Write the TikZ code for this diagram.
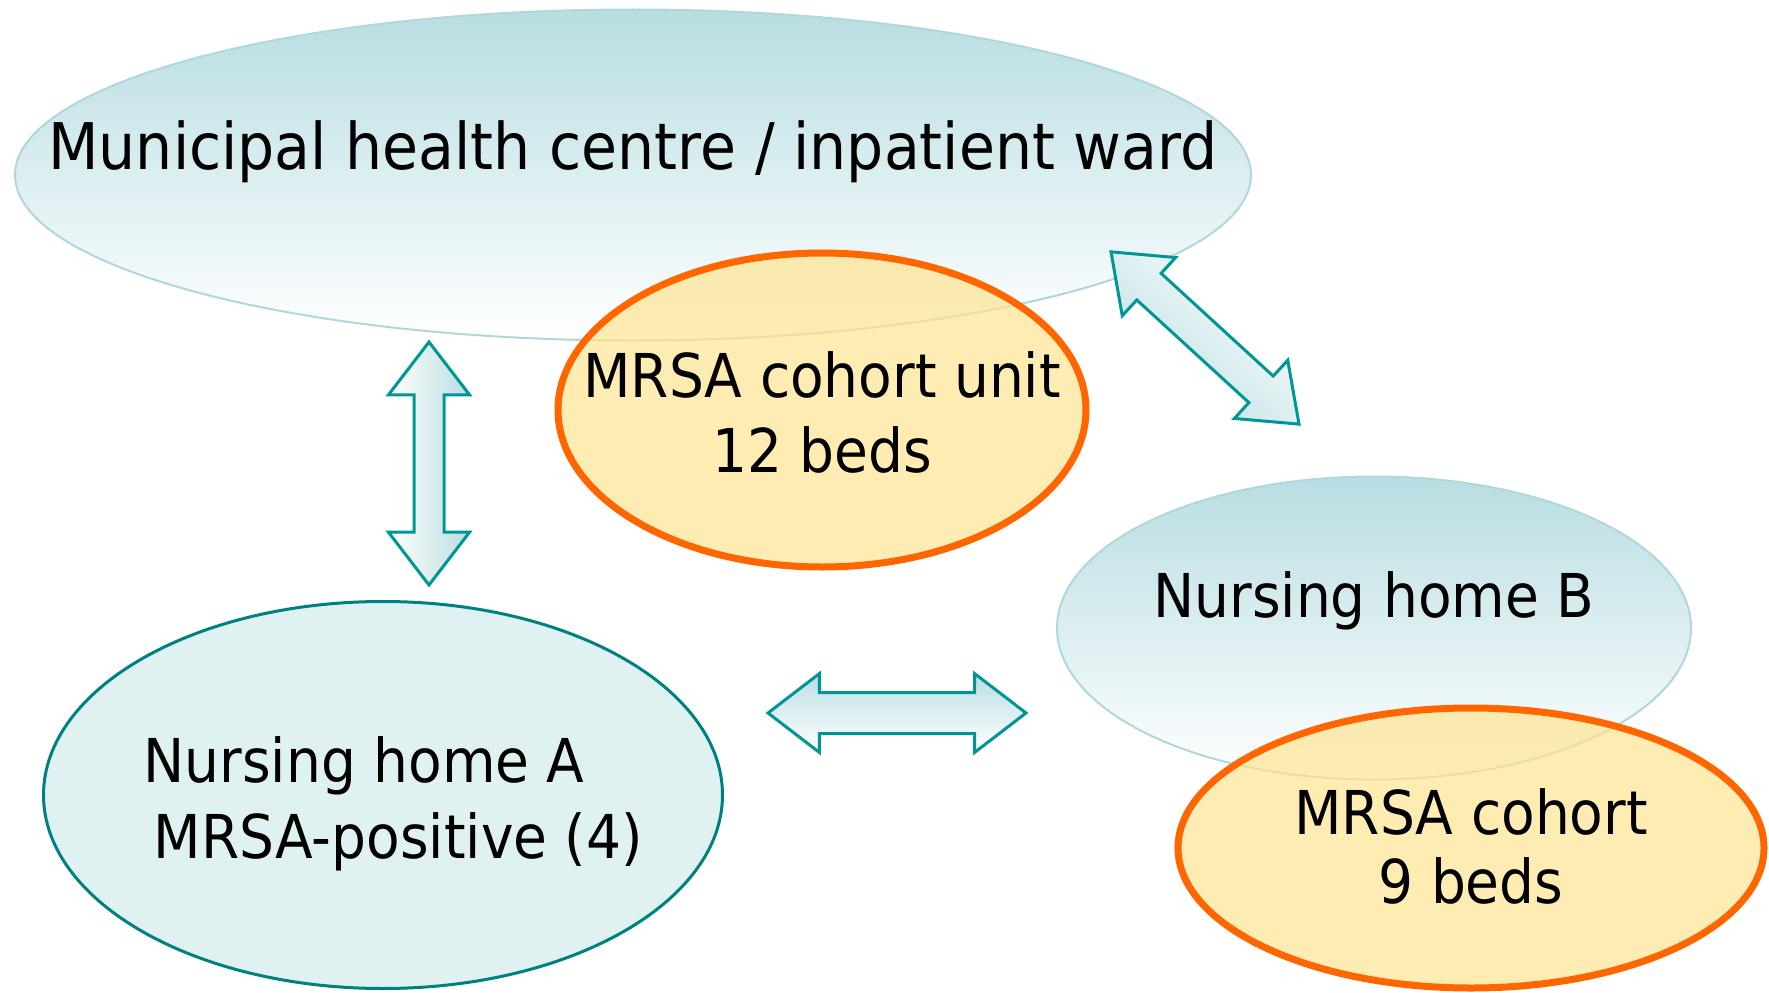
\documentclass[tikz,border=0pt]{standalone}
\usepackage{fontspec}
\setmainfont{DejaVu Sans}[FakeStretch=0.91]
\usetikzlibrary{positioning}
\usetikzlibrary{shapes.geometric}
\usetikzlibrary{shapes.arrows}

\definecolor{wardteal}{RGB}{184,221,226}
\definecolor{wardedge}{RGB}{176,216,220}
\definecolor{homefill}{RGB}{224,241,242}
\definecolor{homeedge}{RGB}{0,128,128}
\definecolor{cohortorange}{RGB}{255,102,0}
\definecolor{cohortyellow}{RGB}{254,228,145}
\definecolor{arrowedge}{RGB}{0,150,150}
\definecolor{arrowfill}{RGB}{186,222,226}

\begin{document}
\begin{tikzpicture}[
  site/.style={ellipse, inner sep=0pt, outer sep=0pt},
  cohort/.style={ellipse, inner sep=0pt, outer sep=0pt, draw=cohortorange,
    line width=0.07cm, fill=cohortyellow, fill opacity=0.7},
  link/.style={double arrow, draw=arrowedge, line width=0.03cm, inner xsep=0pt,
    minimum width=0pt, double arrow tip angle=75},
  lbl/.style={font=\fontsize{17.2}{21.6}\selectfont, align=center, inner sep=0pt}
]
\useasboundingbox (0,0) rectangle (17.69,9.92);

% health centre, nursing homes
\node[site, draw=wardedge, line width=0.02cm, top color=wardteal, bottom color=white,
  minimum width=12.36cm, minimum height=3.31cm] (ward) at (6.33,8.17) {};
\node[site, draw=wardedge, line width=0.02cm, top color=wardteal, bottom color=white,
  minimum width=6.34cm, minimum height=3.03cm] (homeB) at (13.74,3.64) {};
\node[site, draw=homeedge, line width=0.03cm, fill=homefill,
  minimum width=6.79cm, minimum height=3.87cm] (homeA) at (3.83,1.97) {};

% cohort units
\node[cohort, minimum width=5.28cm, minimum height=3.14cm] (unit) at (8.22,5.82) {};
\node[cohort, minimum width=5.86cm, minimum height=2.80cm] (cohortB) at (14.71,1.44) {};

% transfers: shaft = 2 x inner ysep, head = shaft + 2 x extend
\node[link, rotate=90, minimum height=2.43cm, inner ysep=0.135cm,
  double arrow head extend=0.255cm, left color=white, right color=arrowfill] (wardA) at (4.29,5.285) {};
\node[link, minimum height=2.58cm, inner ysep=0.19cm,
  double arrow head extend=0.19cm, top color=arrowfill, bottom color=white] (AtoB) at (8.97,2.79) {};
\node[link, rotate=-42.5, minimum height=2.55cm, inner ysep=0.165cm,
  double arrow head extend=0.215cm, top color=white, bottom color=arrowfill,
  shading angle=-42.5] (wardB) at (12.05,6.54) {};

% labels (base = last line)
\node[lbl, font=\fontsize{18.3}{22}\selectfont, anchor=base] (wardlbl)
  at ([yshift=0.06cm]ward.center) {Municipal health centre / inpatient ward};
\node[lbl, anchor=base] (unitlbl) at ([yshift=-0.63cm]unit.center) {MRSA cohort unit\\12 beds};
\node[lbl, anchor=base] (homeBlbl) at ([yshift=0.11cm]homeB.center) {Nursing home B};
\node[lbl, font=\fontsize{17.2}{19.6}\selectfont, anchor=base] (cohortBlbl)
  at ([yshift=-0.55cm]cohortB.center) {MRSA cohort\\9 beds};
\node[lbl, align=left, anchor=base west] (homeAlbl)
  at ([xshift=-2.40cm,yshift=-0.63cm]homeA.center) {Nursing home A\\\hspace{0.1cm}MRSA-positive (4)};

\end{tikzpicture}
\end{document}
